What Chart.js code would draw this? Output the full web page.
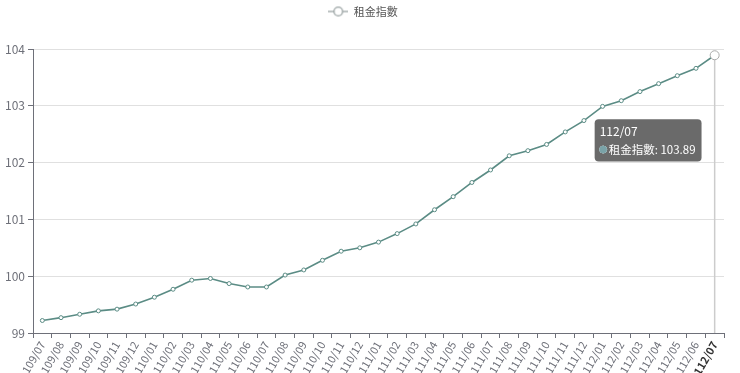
<!DOCTYPE html>
<html>
<head>
<meta charset="utf-8">
<script src="https://cdn.jsdelivr.net/npm/chart.js@4"></script>
<style>
  html, body { margin: 0; padding: 0; background: #fff; }
  #wrap { width: 740px; height: 373px; }
</style>
</head>
<body>
<div id="wrap"><canvas id="rentChart"></canvas></div>
<script>
const months = [
  '109/07', '109/08', '109/09', '109/10', '109/11', '109/12',
  '110/01', '110/02', '110/03', '110/04', '110/05', '110/06',
  '110/07', '110/08', '110/09', '110/10', '110/11', '110/12',
  '111/01', '111/02', '111/03', '111/04', '111/05', '111/06',
  '111/07', '111/08', '111/09', '111/10', '111/11', '111/12',
  '112/01', '112/02', '112/03', '112/04', '112/05', '112/06', '112/07'
]
const rentIndex = [
  99.22, 99.27, 99.33, 99.39, 99.42, 99.51,
  99.63, 99.77, 99.93, 99.96, 99.87, 99.81,
  99.81, 100.02, 100.11, 100.28, 100.44, 100.50,
  100.60, 100.75, 100.92, 101.17, 101.40, 101.65,
  101.87, 102.12, 102.21, 102.32, 102.54, 102.74,
  102.99, 103.09, 103.25, 103.39, 103.53, 103.66, 103.89
]
const seriesName = '租金指數'
const yMin = 99
const yMax = 104
const yStep = 1

const lineColor = '#5b8c85'
const axisColor = '#6E7079'
const fontFamily = '"Noto Sans CJK TC", "Noto Sans", sans-serif'
const activeIndex = rentIndex.length - 1

// legend icon: short line with a hollow circle
const legendIcon = document.createElement('canvas')
legendIcon.width = 20
legendIcon.height = 12
const ic = legendIcon.getContext('2d')
ic.strokeStyle = '#9aa3a3'
ic.lineWidth = 1.3
ic.beginPath(); ic.moveTo(0, 6); ic.lineTo(20, 6); ic.stroke()
ic.fillStyle = '#fff'
ic.beginPath(); ic.arc(10, 6, 4.3, 0, Math.PI * 2); ic.fill(); ic.stroke()

// extra room under the legend
const legendGap = {
  id: 'legendGap',
  beforeInit(chart) {
    const fit = chart.legend.fit
    chart.legend.fit = function () {
      fit.bind(chart.legend)()
      this.height += 22
    }
  }
}

// vertical pointer line at the active point
const pointerLine = {
  id: 'pointerLine',
  beforeDatasetsDraw(chart) {
    const x = chart.scales.x.getPixelForValue(activeIndex)
    const area = chart.chartArea
    const ctx = chart.ctx
    ctx.save()
    ctx.strokeStyle = '#cccccc'
    ctx.lineWidth = 1.5
    ctx.beginPath()
    ctx.moveTo(x, area.top + 4)
    ctx.lineTo(x, area.bottom)
    ctx.stroke()
    ctx.restore()
  }
}

Chart.Tooltip.positioners.besidePoint = function (items) {
  if (!items.length) return false
  const el = items[0].element
  return { x: el.x - 116, y: el.y + 64, xAlign: 'left', yAlign: 'top' }
}

const chart = new Chart(document.getElementById('rentChart'), {
  type: 'line',
  data: {
    labels: months,
    datasets: [{
      label: seriesName,
      data: rentIndex,
      borderColor: lineColor,
      borderWidth: 1.6,
      backgroundColor: '#fff',
      pointBackgroundColor: '#fff',
      pointBorderColor: lineColor,
      pointBorderWidth: 1,
      pointRadius: 2,
      pointHoverRadius: 4.5,
      pointHoverBorderColor: '#aaaaaa',
      pointHoverBackgroundColor: '#fff',
      pointHoverBorderWidth: 1,
      tension: 0
    }]
  },
  options: {
    responsive: true,
    maintainAspectRatio: false,
    animation: false,
    events: [],
    layout: { padding: { top: 0, right: 16, left: 2, bottom: 0 } },
    plugins: {
      legend: {
        position: 'top',
        labels: {
          usePointStyle: true,
          pointStyle: legendIcon,
          pointStyleWidth: 20,
          color: '#555',
          font: { family: fontFamily, size: 11 },
          padding: 6
        }
      },
      tooltip: {
        position: 'besidePoint',
        backgroundColor: 'rgba(90,90,90,0.9)',
        titleColor: '#fff',
        bodyColor: '#fff',
        titleFont: { family: fontFamily, size: 12, weight: 'normal' },
        bodyFont: { family: fontFamily, size: 11.5 },
        titleMarginBottom: 4,
        padding: { top: 5, bottom: 5, left: 5, right: 6 },
        cornerRadius: 4,
        caretSize: 0,
        caretPadding: 0,
        displayColors: true,
        usePointStyle: true,
        boxWidth: 7,
        boxHeight: 7,
        callbacks: {
          label: (c) => c.dataset.label + ': ' + c.parsed.y.toFixed(2),
          labelColor: () => ({ borderColor: '#7aa3a8', backgroundColor: '#7aa3a8' }),
          labelPointStyle: () => ({ pointStyle: 'circle', rotation: 0 })
        }
      }
    },
    scales: {
      x: {
        offset: true,
        grid: {
          offset: true,
          drawOnChartArea: false,
          color: axisColor,
          tickLength: 5
        },
        border: { color: axisColor, width: 1 },
        ticks: {
          autoSkip: false,
          minRotation: 60,
          maxRotation: 60,
          padding: 1,
          color: (c) => c.index === activeIndex ? '#333' : axisColor,
          font: (c) => ({ family: fontFamily, size: 11, weight: c.index === activeIndex ? 'bold' : 'normal' })
        },
        afterFit: (s) => { s.height = 40 }
      },
      y: {
        min: yMin,
        max: yMax,
        grid: {
          color: '#e0e0e0',
          tickColor: axisColor,
          tickLength: 5
        },
        border: { color: axisColor, width: 1 },
        ticks: {
          stepSize: yStep,
          color: axisColor,
          padding: 3,
          font: { family: fontFamily, size: 12 }
        },
        afterFit: (s) => { s.width = 31 }
      }
    }
  },
  plugins: [legendGap, pointerLine]
})

chart.setActiveElements([{ datasetIndex: 0, index: activeIndex }])
chart.tooltip.setActiveElements([{ datasetIndex: 0, index: activeIndex }], { x: 0, y: 0 })
chart.update()
</script>
</body>
</html>
